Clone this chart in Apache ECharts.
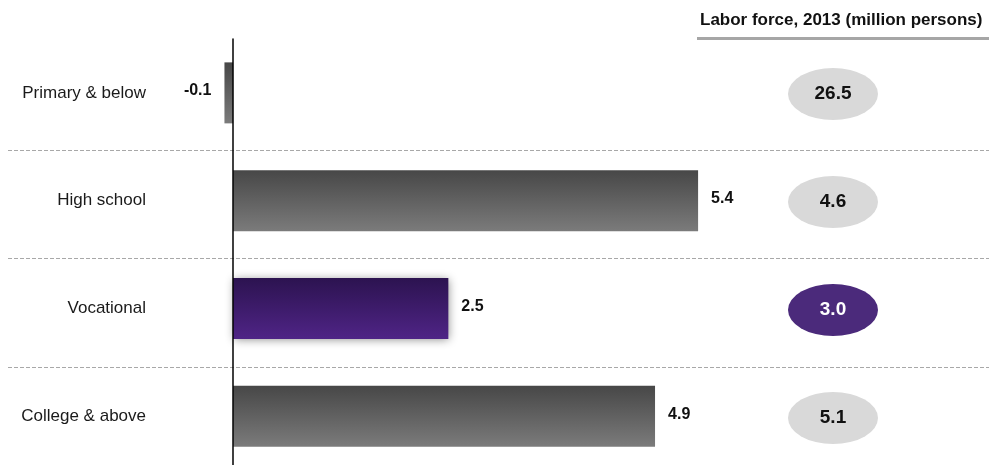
<!DOCTYPE html>
<html>
<head>
<meta charset="utf-8">
<script src="https://cdn.jsdelivr.net/npm/echarts@6/dist/echarts.min.js"></script>
<style>
  html, body { margin: 0; padding: 0; background: #ffffff; }
  #chart { width: 989px; height: 465px; }
</style>
</head>
<body>
<div id="chart"></div>
<script>
// Education levels, change in labor force and 2013 labor force size
const categories = ['Primary & below', 'High school', 'Vocational', 'College & above'];
const changeValues = [-0.1, 5.4, 2.5, 4.9];
const laborForce2013 = [26.5, 4.6, 3.0, 5.1];
const highlightCategory = 'Vocational';
const laborHeader = 'Labor force, 2013 (million persons)';

const FONT = '"Liberation Sans", Arial, Helvetica, sans-serif';

const grayFill = new echarts.graphic.LinearGradient(0, 0, 0, 1, [
  { offset: 0, color: '#474747' },
  { offset: 1, color: '#7b7b7b' }
]);
const purpleFill = new echarts.graphic.LinearGradient(0, 0, 0, 1, [
  { offset: 0, color: '#2c1350' },
  { offset: 1, color: '#4f2486' }
]);

const barData = changeValues.map((v, i) => {
  const hl = categories[i] === highlightCategory;
  return {
    value: v,
    itemStyle: hl
      ? { color: purpleFill, shadowBlur: 9, shadowColor: 'rgba(0,0,0,0.45)', shadowOffsetX: 1, shadowOffsetY: 1 }
      : { color: grayFill },
    label: { position: v < 0 ? 'left' : 'right' }
  };
});

const ellipseData = laborForce2013.map((v, i) => {
  const hl = categories[i] === highlightCategory;
  return {
    value: [0, i, v],
    itemStyle: { color: hl ? '#4b2a7b' : '#d9d9d9', opacity: 1 },
    label: { color: hl ? '#ffffff' : '#111111' }
  };
});

const chart = echarts.init(document.getElementById('chart'), null, { renderer: 'canvas' });

chart.setOption({
  animation: false,
  backgroundColor: '#ffffff',
  title: {
    text: laborHeader,
    left: 695,
    top: 7,
    textStyle: { fontFamily: FONT, fontSize: 17, fontWeight: 'bold', color: '#111111' }
  },
  graphic: [
    {
      type: 'line',
      shape: { x1: 697, y1: 38.5, x2: 989, y2: 38.5 },
      style: { stroke: '#a6a6a6', lineWidth: 3 },
      z: 10
    }
  ],
  grid: [
    // bars
    { left: 190, width: 732, top: 39, height: 431, containLabel: false, outerBoundsMode: 'none' },
    // row separators
    { left: 8, right: 0, top: 41.5, height: 434, containLabel: false, outerBoundsMode: 'none' },
    // labor force bubbles
    { left: 788, width: 90, top: 40, height: 432, containLabel: false, outerBoundsMode: 'none' }
  ],
  xAxis: [
    { gridIndex: 0, type: 'value', min: -0.5, max: 8, show: false },
    { gridIndex: 1, type: 'value', min: 0, max: 1, show: false },
    { gridIndex: 2, type: 'category', data: [laborHeader], show: false }
  ],
  yAxis: [
    {
      gridIndex: 0,
      type: 'category',
      data: categories,
      inverse: true,
      axisLine: { show: true, onZero: true, lineStyle: { color: '#000000', width: 1.5 } },
      axisTick: { show: false },
      splitLine: { show: false },
      axisLabel: {
        margin: 44,
        fontFamily: FONT,
        fontSize: 17,
        color: '#1a1a1a',
        align: 'right',
        verticalAlign: 'middle',
        padding: [6, 0, 0, 0]
      },
      z: 5
    },
    {
      gridIndex: 1,
      type: 'category',
      data: categories,
      inverse: true,
      axisLine: { show: false },
      axisTick: { show: false },
      axisLabel: { show: false },
      splitLine: {
        show: true,
        showMinLine: false,
        showMaxLine: false,
        lineStyle: { color: '#a8a8a8', width: 1, type: [4, 2] }
      }
    },
    {
      gridIndex: 2,
      type: 'category',
      data: categories,
      inverse: true,
      show: false
    }
  ],
  series: [
    {
      type: 'bar',
      xAxisIndex: 0,
      yAxisIndex: 0,
      data: barData,
      barWidth: 61,
      z: 3,
      label: {
        show: true,
        distance: 13,
        offset: [0, -2],
        fontFamily: FONT,
        fontSize: 16,
        fontWeight: 'bold',
        color: '#111111',
        formatter: p => p.value.toFixed(1)
      }
    },
    {
      type: 'scatter',
      xAxisIndex: 2,
      yAxisIndex: 2,
      symbol: 'circle',
      symbolSize: [90, 52],
      data: ellipseData,
      z: 3,
      label: {
        show: true,
        position: 'inside',
        fontFamily: FONT,
        fontSize: 19,
        fontWeight: 'bold',
        formatter: p => p.value[2].toFixed(1)
      }
    }
  ]
});
</script>
</body>
</html>
